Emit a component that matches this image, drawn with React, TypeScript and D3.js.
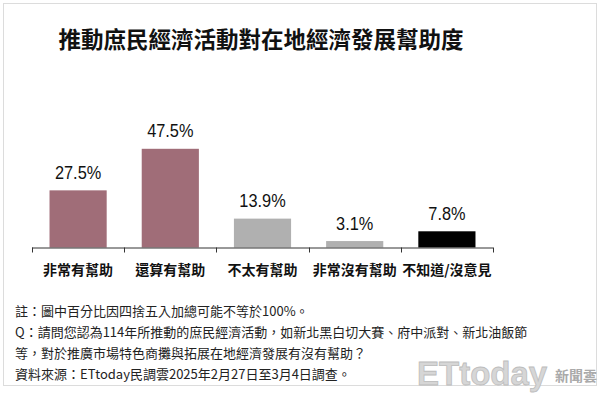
import React, { useEffect, useRef } from 'react';
import * as d3 from 'd3';

const title = '推動庶民經濟活動對在地經濟發展幫助度';
const categories = ['非常有幫助', '還算有幫助', '不太有幫助', '非常沒有幫助', '不知道/沒意見'];
const values = [27.5, 47.5, 13.9, 3.1, 7.8];
const barColors = ['#a06d78', '#a06d78', '#b0b0b0', '#b0b0b0', '#000000'];
const notes = [
  '註：圖中百分比因四捨五入加總可能不等於100%。',
  'Q：請問您認為114年所推動的庶民經濟活動，如新北黑白切大賽、府中派對、新北油飯節',
  '等，對於推廣市場特色商攤與拓展在地經濟發展有沒有幫助？',
  '資料來源：ETtoday民調雲2025年2月27日至3月4日調查。',
];

const W = 600;
const H = 393;
const CJK = '"Noto Sans CJK TC", "Noto Sans", sans-serif';

const App = () => {
  const ref = useRef<SVGSVGElement>(null);

  useEffect(() => {
    const svg = d3.select(ref.current);
    svg.selectAll('*').remove();

    // frame
    svg.append('rect')
      .attr('x', 3.5).attr('y', 3.5)
      .attr('width', 593).attr('height', 382)
      .attr('fill', '#fff')
      .attr('stroke', '#dcdcdc');

    svg.append('text')
      .attr('x', 261).attr('y', 48)
      .attr('text-anchor', 'middle')
      .attr('font-family', CJK)
      .attr('font-weight', 'bold')
      .attr('font-size', 22.5)
      .attr('fill', '#111')
      .text(title);

    const x = d3.scaleBand()
      .domain(categories)
      .range([32, 493])
      .paddingInner(0.38)
      .paddingOuter(0.19);

    const y = d3.scaleLinear()
      .domain([0, 50])
      .range([247.5, 143.6]);

    const data = categories.map((c, i) => ({ c, v: values[i], color: barColors[i] }));

    svg.selectAll('.bar')
      .data(data)
      .enter()
      .append('rect')
      .attr('class', 'bar')
      .attr('x', d => x(d.c)!)
      .attr('width', x.bandwidth())
      .attr('y', d => y(d.v))
      .attr('height', d => y(0) - y(d.v))
      .attr('fill', d => d.color);

    // value labels
    svg.selectAll('.val')
      .data(data)
      .enter()
      .append('text')
      .attr('class', 'val')
      .attr('transform', d => `translate(${x(d.c)! + x.bandwidth() / 2},${y(d.v) - 11.5}) scale(0.86,1)`)
      .attr('text-anchor', 'middle')
      .attr('font-family', '"Liberation Sans", Arial, sans-serif')
      .attr('font-size', 19)
      .attr('fill', '#111')
      .text(d => `${d.v.toFixed(1)}%`);

    // axis with ticks at band edges
    const edges = d3.range(categories.length + 1).map(i => 32 + i * (461 / categories.length));
    const axis = svg.append('g').attr('stroke', '#333').attr('stroke-width', 1);
    axis.append('line')
      .attr('x1', 32).attr('x2', 493)
      .attr('y1', y(0) + 0.5).attr('y2', y(0) + 0.5);
    axis.selectAll('.tick')
      .data(edges)
      .enter()
      .append('line')
      .attr('x1', d => Math.round(d) + 0.5).attr('x2', d => Math.round(d) + 0.5)
      .attr('y1', y(0)).attr('y2', y(0) + 5);

    svg.selectAll('.cat')
      .data(categories)
      .enter()
      .append('text')
      .attr('class', 'cat')
      .attr('x', d => x(d)! + x.bandwidth() / 2)
      .attr('y', 275)
      .attr('text-anchor', 'middle')
      .attr('font-family', CJK)
      .attr('font-weight', 'bold')
      .attr('font-size', 14)
      .attr('fill', '#111')
      .text(d => d);

    svg.selectAll('.note')
      .data(notes)
      .enter()
      .append('text')
      .attr('class', 'note')
      .attr('x', 15)
      .attr('y', (_, i) => 316 + i * 21)
      .attr('font-family', CJK)
      .attr('font-size', 13)
      .attr('fill', '#222')
      .text(d => d);

    // watermark
    const wm = svg.append('g');
    wm.append('text')
      .attr('x', 417).attr('y', 385)
      .attr('font-family', '"Liberation Sans", Arial, sans-serif')
      .attr('font-weight', 'bold')
      .attr('font-size', 33)
      .attr('fill', '#d6d6d6')
      .attr('stroke', '#bdbdbd')
      .attr('stroke-width', 0.8)
      .text('ETtoday');
    wm.append('text')
      .attr('x', 555).attr('y', 381)
      .attr('font-family', CJK)
      .attr('font-weight', 'bold')
      .attr('font-size', 14)
      .attr('fill', '#aaa')
      .text('新聞雲');
  }, []);

  return (
    <svg ref={ref} width={W} height={H} style={{ position: 'absolute', left: 0, top: 0, background: '#fff' }} />
  );
};

export default App;
